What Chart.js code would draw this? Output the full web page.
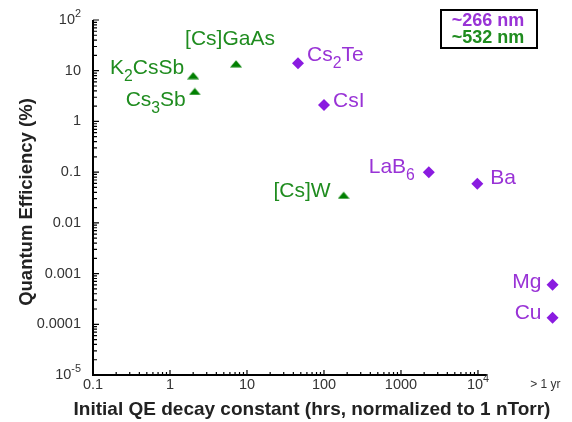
<!DOCTYPE html>
<html>
<head>
<meta charset="utf-8">
<script src="https://cdn.jsdelivr.net/npm/chart.js@4"></script>
<style>
  body { margin: 0; background: #fff; }
</style>
</head>
<body>
<canvas id="qeChart" width="572" height="422"></canvas>
<script>
// ~532 nm photocathodes (green triangles)
const greenNames = ['K_{2}CsSb', 'Cs_{3}Sb', '[Cs]GaAs', '[Cs]W'];
const greenDecay = [2.0, 2.1, 7.2, 180];
const greenQE = [8, 3.9, 13.7, 0.035];

// ~266 nm photocathodes (purple diamonds)
const purpleNames = ['Cs_{2}Te', 'CsI', 'LaB_{6}', 'Ba', 'Mg', 'Cu'];
const purpleDecay = [46, 100, 2300, 9800, 93000, 93000];
const purpleQE = [14, 2.1, 0.1, 0.059, 0.0006, 0.000135];

const xTickValues = [0.1, 1, 10, 100, 1000, 10000];
const xTickLabels = ['0.1', '1', '10', '100', '1000', '10^{4}'];
const yTickValues = [100, 10, 1, 0.1, 0.01, 0.001, 0.0001, 0.00001];
const yTickLabels = ['10^{2}', '10', '1', '0.1', '0.01', '0.001', '0.0001', '10^{-5}'];
const overflowValue = 75000;
const overflowLabel = '> 1 yr';

// label offsets from each marker: dx, dy, alignment
const greenLabelPos = [[-9, -7, 'right'], [-9, 9, 'right'], [-6, -25, 'center'], [-13, -4, 'right']];
const purpleLabelPos = [[9, -8, 'left'], [9, -4, 'left'], [-14, -5, 'right'], [13, -6, 'left'], [-11, -3, 'right'], [-11, -4, 'right']];

const PURPLE = '#8a1be0';
const PURPLE_TEXT = '#9933d6';
const GREEN = '#007f00';
const GREEN_TEXT = '#1f8c1f';
const FONT = '"Liberation Sans", Arial, sans-serif';

function parseRich(str) {
  const parts = [];
  const re = /([_^])\{([^}]*)\}/g;
  let last = 0, m;
  while ((m = re.exec(str))) {
    if (m.index > last) parts.push({ t: str.slice(last, m.index), k: '' });
    parts.push({ t: m[2], k: m[1] });
    last = re.lastIndex;
  }
  if (last < str.length) parts.push({ t: str.slice(last), k: '' });
  return parts;
}

function drawRich(ctx, str, x, y, size, align, weight) {
  const parts = parseRich(str);
  const font = s => (weight || 'normal') + ' ' + s + 'px ' + FONT;
  let w = 0;
  parts.forEach(p => {
    p.size = p.k ? size * 0.75 : size;
    ctx.font = font(p.size);
    p.w = ctx.measureText(p.t).width;
    w += p.w;
  });
  let cx = align === 'right' ? x - w : align === 'center' ? x - w / 2 : x;
  ctx.textAlign = 'left';
  ctx.textBaseline = 'middle';
  parts.forEach(p => {
    ctx.font = font(p.size);
    const dy = p.k === '_' ? size * 0.4 : p.k === '^' ? -size * 0.42 : 0;
    ctx.fillText(p.t, cx, y + dy);
    cx += p.w;
  });
}

function makeTriangle(color) {
  const c = document.createElement('canvas');
  c.width = 12; c.height = 8;
  const g = c.getContext('2d');
  g.fillStyle = color;
  g.beginPath();
  g.moveTo(6, 0.5);
  g.lineTo(12, 7.5);
  g.lineTo(0, 7.5);
  g.closePath();
  g.fill();
  return c;
}

const axesPlugin = {
  id: 'axes',
  beforeDatasetsDraw(chart) {
    const { ctx, chartArea: a, scales: { x, y } } = chart;
    ctx.save();
    ctx.strokeStyle = '#000';
    ctx.lineWidth = 2;
    const xEnd = x.getPixelForValue(xTickValues[xTickValues.length - 1]) + 9;
    const yTop = y.getPixelForValue(yTickValues[0]);
    ctx.beginPath();
    ctx.moveTo(a.left, yTop);
    ctx.lineTo(a.left, a.bottom);
    ctx.lineTo(xEnd, a.bottom);
    ctx.stroke();

    // ticks, pointing inward
    ctx.lineWidth = 1.2;
    ctx.beginPath();
    xTickValues.forEach((v, i) => {
      const px = x.getPixelForValue(v);
      ctx.moveTo(px, a.bottom); ctx.lineTo(px, a.bottom - 5);
      if (i < xTickValues.length - 1) {
        for (let k = 2; k < 10; k++) {
          const mx = x.getPixelForValue(k * v);
          ctx.moveTo(mx, a.bottom); ctx.lineTo(mx, a.bottom - 3);
        }
      }
    });
    yTickValues.forEach((v, i) => {
      const py = y.getPixelForValue(v);
      ctx.moveTo(a.left, py); ctx.lineTo(a.left + 6, py);
      if (i > 0) {
        for (let k = 2; k < 10; k++) {
          const my = y.getPixelForValue(k * v);
          ctx.moveTo(a.left, my); ctx.lineTo(a.left + 4, my);
        }
      }
    });
    ctx.stroke();

    // tick labels
    ctx.fillStyle = '#333';
    xTickValues.forEach((v, i) => drawRich(ctx, xTickLabels[i], x.getPixelForValue(v), a.bottom + 10, 14.5, 'center'));
    drawRich(ctx, overflowLabel, x.getPixelForValue(overflowValue), a.bottom + 10, 12, 'center');
    yTickValues.forEach((v, i) => drawRich(ctx, yTickLabels[i], a.left - 12, y.getPixelForValue(v), 14.5, 'right'));

    // axis titles
    ctx.fillStyle = '#222';
    ctx.textAlign = 'center';
    ctx.textBaseline = 'middle';
    ctx.font = 'bold 19px ' + FONT;
    ctx.fillText('Initial QE decay constant (hrs, normalized to 1 nTorr)', 312, 410);
    ctx.font = 'bold 18.5px ' + FONT;
    ctx.translate(27, 202);
    ctx.rotate(-Math.PI / 2);
    ctx.fillText('Quantum Efficiency (%)', 0, 0);
    ctx.restore();
  },
  afterDatasetsDraw(chart) {
    const { ctx } = chart;
    ctx.save();
    const sets = [
      { idx: 0, names: purpleNames, pos: purpleLabelPos, color: PURPLE_TEXT },
      { idx: 1, names: greenNames, pos: greenLabelPos, color: GREEN_TEXT }
    ];
    sets.forEach(s => {
      const meta = chart.getDatasetMeta(s.idx);
      ctx.fillStyle = s.color;
      meta.data.forEach((pt, j) => {
        const [dx, dy, al] = s.pos[j];
        drawRich(ctx, s.names[j], pt.x + dx, pt.y + dy, 21, al);
      });
    });

    // legend box
    ctx.strokeStyle = '#000';
    ctx.lineWidth = 2;
    ctx.strokeRect(441, 10, 96, 38);
    ctx.textAlign = 'center';
    ctx.textBaseline = 'middle';
    ctx.font = 'bold 18px ' + FONT;
    chart.data.datasets.forEach((ds, i) => {
      ctx.fillStyle = i === 0 ? PURPLE_TEXT : GREEN_TEXT;
      ctx.fillText(ds.label, 488, 21 + i * 17);
    });
    ctx.restore();
  }
};

new Chart(document.getElementById('qeChart'), {
  type: 'scatter',
  data: {
    datasets: [
      {
        label: '~266 nm',
        data: purpleDecay.map((d, i) => ({ x: d, y: purpleQE[i] })),
        pointStyle: 'rectRot',
        pointRadius: 6,
        backgroundColor: PURPLE,
        borderColor: PURPLE,
        borderWidth: 0
      },
      {
        label: '~532 nm',
        data: greenDecay.map((d, i) => ({ x: d, y: greenQE[i] })),
        pointStyle: makeTriangle(GREEN),
        backgroundColor: GREEN,
        borderColor: GREEN
      }
    ]
  },
  options: {
    responsive: false,
    animation: false,
    layout: { padding: { top: 20, right: 7 } },
    plugins: { legend: { display: false }, tooltip: { enabled: false } },
    scales: {
      x: {
        type: 'logarithmic', min: 0.1, max: 135000,
        ticks: { display: false }, grid: { display: false }, border: { display: false },
        afterFit: s => { s.height = 47; }
      },
      y: {
        type: 'logarithmic', min: 0.00001, max: 100,
        ticks: { display: false }, grid: { display: false }, border: { display: false },
        afterFit: s => { s.width = 93; }
      }
    }
  },
  plugins: [axesPlugin]
});
</script>
</body>
</html>
